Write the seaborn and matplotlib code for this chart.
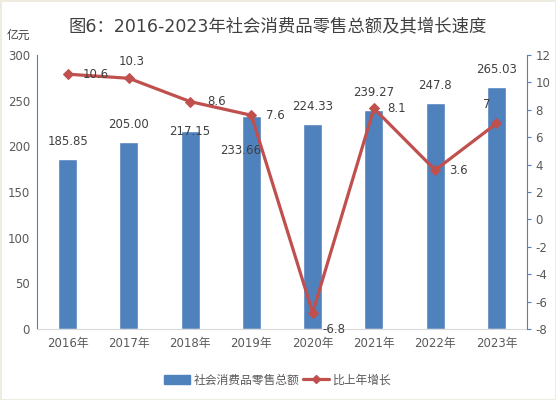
import numpy as np
import pandas as pd
import matplotlib
matplotlib.use('Agg')
import matplotlib.pyplot as plt
import seaborn as sns
from matplotlib.lines import Line2D
from matplotlib.patches import Patch

# ------------------------------------------------------------------
# Data
# ------------------------------------------------------------------
years = ['2016年', '2017年', '2018年', '2019年', '2020年', '2021年', '2022年', '2023年']
sales = [185.85, 205.00, 217.15, 233.66, 224.33, 239.27, 247.8, 265.03]
sales_labels = ['185.85', '205.00', '217.15', '233.66', '224.33', '239.27', '247.8', '265.03']
growth = [10.6, 10.3, 8.6, 7.6, -6.8, 8.1, 3.6, 7]
growth_labels = ['10.6', '10.3', '8.6', '7.6', '-6.8', '8.1', '3.6', '7']

# label offsets (points) so they sit roughly where the original chart puts them
sales_off = [(0, 8), (0, 8), (0, -5), (-8, -30), (0, 8), (0, 8), (0, 8), (0, 8)]
growth_off = [(20, 0), (2, 12), (19, 0), (17, 0), (15, -12), (16, 0), (17, 0), (-7, 14)]

df = pd.DataFrame({'year': years, 'sales': sales, 'growth': growth})

bar_color = '#4F81BD'
line_color = '#C0504D'
text_color = '#404040'
tick_color = '#595959'

sns.set_style('white')
plt.rcParams['font.family'] = ['DejaVu Sans', 'Noto Sans CJK SC']
plt.rcParams['axes.unicode_minus'] = False

fig = plt.figure(figsize=(5.56, 4), dpi=100)
fig.patch.set_edgecolor('#EEECE1')
fig.patch.set_linewidth(2)
ax = fig.add_axes([0.0665, 0.1775, 0.8815, 0.685])

sns.barplot(data=df, x='year', y='sales', color=bar_color, width=0.31,
            saturation=1, ax=ax, zorder=2)
ax.set_ylim(0, 300)
ax.set_yticks(range(0, 301, 50))
ax.set_xlim(-0.5, len(years) - 0.5)
ax.set_xlabel('')
ax.set_ylabel('')
ax.tick_params(axis='both', labelsize=8.5, colors=tick_color, length=0, pad=5)
ax.tick_params(axis='x', pad=6)
for s in ['top', 'right']:
    ax.spines[s].set_visible(False)
ax.spines['left'].set_color(bar_color)
ax.spines['bottom'].set_color('#D9D9D9')

for i, (v, lab) in enumerate(zip(sales, sales_labels)):
    ax.annotate(lab, (i, v), xytext=sales_off[i], textcoords='offset points',
                ha='center', va='bottom', fontsize=8.5, color=text_color, zorder=5)

ax2 = ax.twinx()
sns.lineplot(x=np.arange(len(years)), y=growth, ax=ax2, color=line_color,
             linewidth=2.3, marker='D', markersize=5.5, markeredgecolor=line_color,
             zorder=4)
ax2.set_ylim(-8, 12)
ax2.set_yticks(range(-8, 13, 2))
ax2.tick_params(axis='y', labelsize=8.5, labelcolor=tick_color, length=3,
                direction='out', pad=3, color=bar_color)
for s in ['top', 'left', 'bottom']:
    ax2.spines[s].set_visible(False)
ax2.spines['right'].set_color(bar_color)

for i, (v, lab) in enumerate(zip(growth, growth_labels)):
    ax2.annotate(lab, (i, v), xytext=growth_off[i], textcoords='offset points',
                 ha='center', va='center', fontsize=8.5, color=text_color, zorder=6)

fig.text(0.5, 0.935, '图6：2016-2023年社会消费品零售总额及其增长速度',
         ha='center', va='center', fontsize=12.5, color=text_color)
fig.text(0.012, 0.912, '亿元', ha='left', va='center', fontsize=8.5, color=text_color)

handles = [Patch(facecolor=bar_color, edgecolor=bar_color),
           Line2D([], [], color=line_color, linewidth=2.3, marker='D', markersize=4.5)]
fig.legend(handles, ['社会消费品零售总额', '比上年增长'], loc='center',
           bbox_to_anchor=(0.5, 0.05), ncol=2, frameon=False, fontsize=8.5,
           labelcolor=tick_color, handlelength=2.2, handletextpad=0.3,
           columnspacing=0.3)

fig.savefig('out.png', dpi=100, facecolor='white', edgecolor=fig.patch.get_edgecolor())
